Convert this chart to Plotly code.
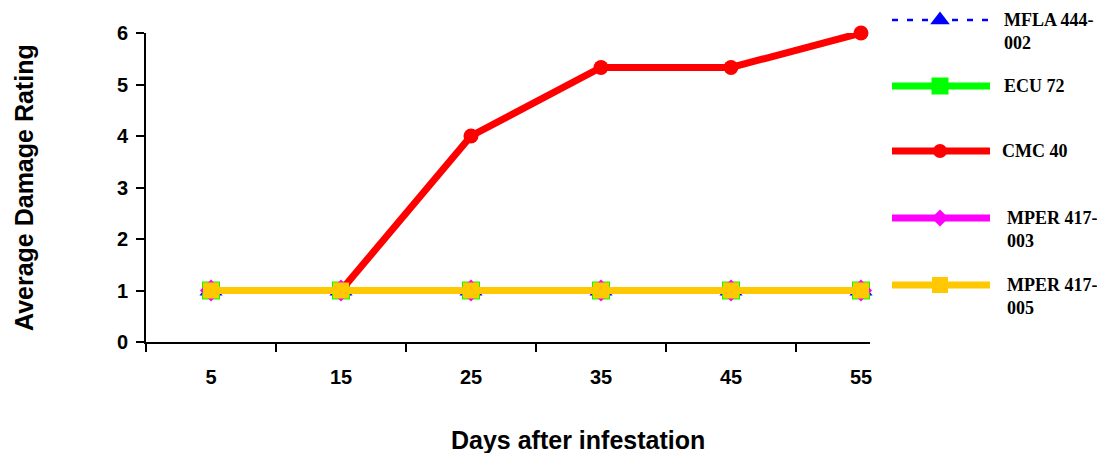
import plotly.graph_objects as go

days = [5, 15, 25, 35, 45, 55]
series_names = ["MFLA 444-002", "ECU 72", "CMC 40", "MPER 417-003", "MPER 417-005"]
legend_labels = ["MFLA 444-<br>002", "ECU 72", "CMC 40", "MPER 417-<br>003", "MPER 417-<br>005"]
mfla = [1, 1, 1, 1, 1, 1]
ecu = [1, 1, 1, 1, 1, 1]
cmc = [1, 1, 4, 5.33, 5.33, 6]
mper003 = [1, 1, 1, 1, 1, 1]
mper005 = [1, 1, 1, 1, 1, 1]
y_ticks = [0, 1, 2, 3, 4, 5, 6]
x_minor_ticks = [0, 10, 20, 30, 40, 50]

values = [mfla, ecu, cmc, mper003, mper005]
colors = ["#0000FF", "#00FF00", "#FF0000", "#FF00FF", "#FFC800"]
symbols = ["triangle-up", "square", "circle", "diamond", "square"]
msizes = [20, 18, 15, 17, 16]
leg_msizes = [17, 17, 14, 13, 16]
widths = [2.5, 7, 7, 7, 7]
leg_widths = [2.5, 7, 7, 7, 7]
dashes = ["6px,9px", "solid", "solid", "solid", "solid"]

W, H = 1097, 453
L, R, T, B = 146, 10, 10, 111
pw = W - L - R
ph = H - T - B
plot_right_px = 870
plot_top_px = 33

fig = go.Figure()
for name, v, c, s, ms, w, d in zip(series_names, values, colors, symbols, msizes, widths, dashes):
    fig.add_trace(go.Scatter(
        x=days, y=v, name=name, mode="lines+markers",
        line=dict(color=c, width=w, dash=d),
        marker=dict(color=c, symbol=s, size=ms, line=dict(width=0)),
        showlegend=False, xaxis="x", yaxis="y", cliponaxis=False,
    ))

# custom legend drawn on an auxiliary axis (pixel-like coordinates)
legend_rows_px = [20, 86, 151, 218, 285]
label_x_px = [1002, 1002, 1000, 1005, 1005]
for lab, c, s, ms, w, d, ypx, lx in zip(legend_labels, colors, symbols, leg_msizes,
                                        leg_widths, dashes, legend_rows_px, label_x_px):
    yy = (H - B) - ypx
    fig.add_trace(go.Scatter(
        x=[892, 990], y=[yy, yy], mode="lines",
        line=dict(color=c, width=w, dash=d), showlegend=False,
        xaxis="x2", yaxis="y2", hoverinfo="skip",
    ))
    fig.add_trace(go.Scatter(
        x=[940], y=[yy], mode="markers",
        marker=dict(color=c, symbol=s, size=ms, line=dict(width=0)),
        showlegend=False, xaxis="x2", yaxis="y2", hoverinfo="skip",
    ))
    nlines = lab.count("<br>") + 1
    ymid = yy - (nlines - 1) * 11
    fig.add_annotation(
        x=lx, y=ymid, xref="x2", yref="y2", text="<b>" + lab + "</b>",
        showarrow=False, xanchor="left", yanchor="middle", align="left",
        font=dict(family="Liberation Serif", size=18, color="black"),
    )

fig.add_annotation(x=928, y=(H - B) - 344, xref="x2", yref="y2", text="<b>.</b>",
                   showarrow=False, xanchor="center", yanchor="bottom",
                   font=dict(family="Liberation Serif", size=14, color="black"))

fig.add_annotation(x=(578 - L) / pw, y=-(440 - (H - B)) / ph, xref="paper", yref="paper",
                   text="<b>Days after infestation</b>", showarrow=False,
                   xanchor="center", yanchor="middle",
                   font=dict(family="Liberation Sans", size=25, color="black"))
fig.add_annotation(x=-(L - 24) / pw, y=((H - B) - 187) / ph, xref="paper", yref="paper",
                   text="<b>Average Damage Rating</b>", showarrow=False, textangle=-90,
                   xanchor="center", yanchor="middle",
                   font=dict(family="Liberation Sans", size=25, color="black"))

xdom_right = (plot_right_px - L) / pw
ydom_top = ((H - B) - plot_top_px) / ph
px_per_unit = 13.0
fig.update_layout(
    width=W, height=H,
    margin=dict(l=L, r=R, t=T, b=B, autoexpand=False),
    paper_bgcolor="white", plot_bgcolor="rgba(0,0,0,0)",
    xaxis=dict(
        domain=[0, xdom_right], range=[0, (plot_right_px - L) / px_per_unit],
        tickvals=days, ticktext=[str(d) for d in days], ticks="",
        showline=True, linecolor="black", linewidth=2, showgrid=False, zeroline=False,
        tickfont=dict(family="Liberation Sans", size=20, color="black", weight="bold"),
        ticklabelstandoff=16, automargin=False,
        minor=dict(tickvals=x_minor_ticks, ticks="outside", ticklen=8, tickwidth=2,
                   tickcolor="black", showgrid=False),
    ),
    yaxis=dict(
        domain=[0, ydom_top], range=[0, 6], tickvals=y_ticks,
        ticks="outside", ticklen=8, tickwidth=2, tickcolor="black",
        showline=True, linecolor="black", linewidth=2, showgrid=False, zeroline=False,
        tickfont=dict(family="Liberation Sans", size=20, color="black", weight="bold"),
        ticklabelstandoff=4, automargin=False,
    ),
    xaxis2=dict(domain=[0, 1], range=[L, W - R], visible=False, anchor="y2", automargin=False),
    yaxis2=dict(domain=[0, 1], range=[0, ph], visible=False, anchor="x2", automargin=False),
    font=dict(family="Liberation Sans", color="black"),
)

fig.write_html("out.html", config={"displayModeBar": False},
               post_script="document.body.style.margin='0';")
